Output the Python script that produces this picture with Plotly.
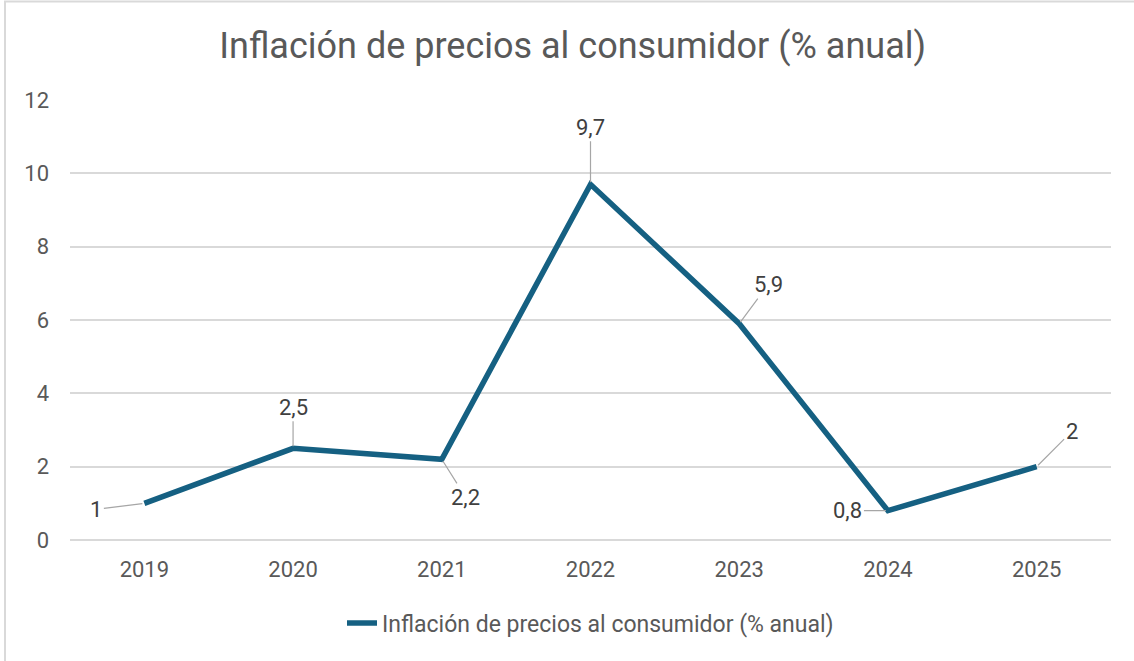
import plotly.graph_objects as go

# datos
years = ["2019", "2020", "2021", "2022", "2023", "2024", "2025"]
inflation = [1.0, 2.5, 2.2, 9.7, 5.9, 0.8, 2.0]
labels = ["1", "2,5", "2,2", "9,7", "5,9", "0,8", "2"]
# label offsets (px) relative to each point, like the Excel leader lines
label_dx = [-48, 0, 24, 0, 29, -40, 35]
label_dy = [6, -41, 38, -57, -39, 0, -35]

series_name = "Inflación de precios al consumidor (% anual)"
line_color = "#156082"
text_color = "#595959"
font_family = "Roboto, Open Sans, sans-serif"

fig = go.Figure()
fig.add_trace(go.Scatter(
    x=years, y=inflation, mode="lines", name=series_name,
    line=dict(color=line_color, width=5.5),
    hoverinfo="x+y",
))

# annotations placed by category index (0..6) so the category axis finds them
for i, (val, lab, dx, dy) in enumerate(zip(inflation, labels, label_dx, label_dy)):
    fig.add_annotation(
        x=i, y=val, xref="x", yref="y", text=lab, showarrow=True, arrowhead=0,
        arrowcolor="#a6a6a6", arrowwidth=1.2, ax=dx, ay=dy,
        font=dict(size=22, color="#404040", family=font_family),
        standoff=2,
    )

# border around the whole chart (left and top visible, the rest runs off the page)
L, R, T, B = 70, 23, 100, 121
W, H = 1134 - L - R, 661 - T - B
fig.add_shape(
    type="rect", xref="paper", yref="paper",
    x0=(5 - L) / W, x1=(1140 - L) / W,
    y0=(T + H - 670) / H, y1=1 + (T - 1.5) / H,
    line=dict(color="#d9d9d9", width=2), layer="below",
)

fig.update_layout(
    width=1134, height=661,
    margin=dict(l=L, r=R, t=T, b=B),
    paper_bgcolor="white", plot_bgcolor="white",
    font=dict(family=font_family, color=text_color),
    title=dict(text="Inflación de precios al consumidor (% anual)",
               x=0.505, xref="container", xanchor="center",
               y=0.932, yanchor="middle",
               font=dict(size=36, color=text_color)),
    showlegend=True,
    legend=dict(orientation="h", x=0.5, xanchor="center", y=-0.189,
                yanchor="middle", font=dict(size=23, color=text_color)),
    xaxis=dict(type="category", range=[-0.5, 6.5], showgrid=False,
               showline=False, zeroline=False, ticks="",
               tickfont=dict(size=22, color=text_color),
               ticklabelstandoff=14),
    yaxis=dict(range=[0, 12], dtick=2, showgrid=True, gridcolor="#d9d9d9",
               gridwidth=1.5, zeroline=True, zerolinecolor="#d9d9d9",
               zerolinewidth=1.5, showline=False, ticks="",
               tickfont=dict(size=22, color=text_color),
               ticklabelstandoff=20),
)

fig.write_html("out.html", config={"displayModeBar": False},
               post_script="document.body.style.margin='0';")
